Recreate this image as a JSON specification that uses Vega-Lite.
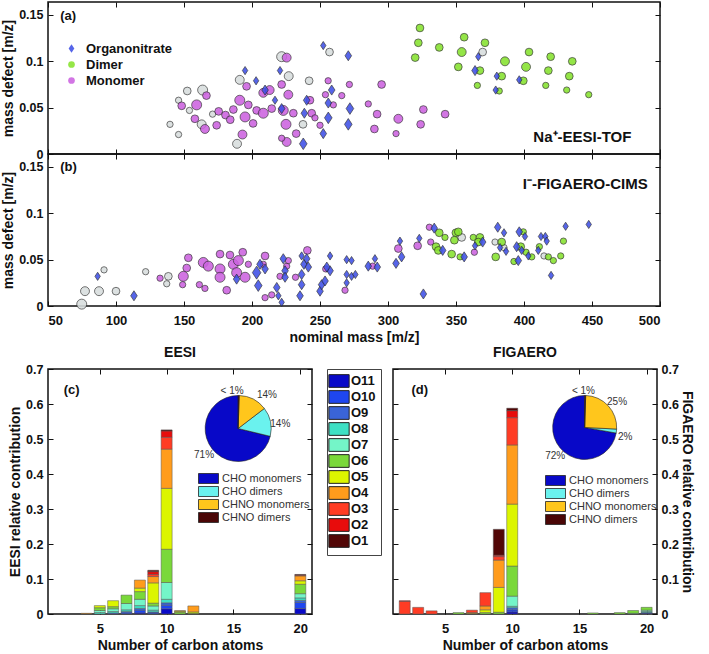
{
"$schema": "https://vega.github.io/schema/vega-lite/v6.json",
"padding": {"left": 0, "top": 0, "right": 0, "bottom": 0},
"config": {
  "font": "Liberation Sans",
  "view": {"stroke": "#111", "strokeWidth": 1.5},
  "axis": {"labelFont": "Liberation Sans", "labelFontSize": 13, "labelFontWeight": "bold", "labelColor": "#111", "titleFont": "Liberation Sans", "titleFontSize": 14, "titleFontWeight": "bold", "titleColor": "#111", "tickColor": "#111", "tickWidth": 1, "grid": false, "domain": false, "tickSize": -5, "titlePadding": 3},
  "axisX": {"labelPadding": 13},
  "axisY": {"labelPadding": 10, "labelFontSize": 12.5},
  "legend": {"labelFont": "Liberation Sans"},
  "title": {"font": "Liberation Sans", "fontSize": 14, "fontWeight": "bold", "color": "#111"}
},
"datasets": {
  "eesi": [
    {"mass":139.7,"defect":0.032,"type":"Other","intensity":1},{"mass":146,"defect":0.021,"type":"Other","intensity":1},{"mass":146,"defect":0.058,"type":"Other","intensity":1},{"mass":152.4,"defect":0.068,"type":"Other","intensity":2},{"mass":163.7,"defect":0.069,"type":"Other","intensity":4},{"mass":154,"defect":0.047,"type":"Other","intensity":1},{"mass":163,"defect":0.032,"type":"Other","intensity":3},{"mass":171,"defect":0.043,"type":"Other","intensity":1},{"mass":189,"defect":0.011,"type":"Other","intensity":3},{"mass":191,"defect":0.080,"type":"Other","intensity":3},{"mass":221.8,"defect":0.105,"type":"Other","intensity":4},{"mass":227,"defect":0.084,"type":"Other","intensity":3},{"mass":242,"defect":0.079,"type":"Other","intensity":2},{"mass":237.5,"defect":0.032,"type":"Other","intensity":2},{"mass":257,"defect":0.110,"type":"Other","intensity":2},{"mass":369.6,"defect":0.110,"type":"Other","intensity":2},
    {"mass":148.3,"defect":0.052,"type":"Monomer","intensity":2},{"mass":159.3,"defect":0.053,"type":"Monomer","intensity":4},{"mass":166.5,"defect":0.063,"type":"Monomer","intensity":2},{"mass":158,"defect":0.038,"type":"Monomer","intensity":2},{"mass":165.4,"defect":0.027,"type":"Monomer","intensity":3},{"mass":174,"defect":0.031,"type":"Monomer","intensity":2},{"mass":175.5,"defect":0.046,"type":"Monomer","intensity":2},{"mass":180.5,"defect":0.042,"type":"Monomer","intensity":2},{"mass":184,"defect":0.037,"type":"Monomer","intensity":2},{"mass":186.3,"defect":0.048,"type":"Monomer","intensity":2},{"mass":196,"defect":0.073,"type":"Monomer","intensity":2},{"mass":191,"defect":0.058,"type":"Monomer","intensity":4},{"mass":194.9,"defect":0.040,"type":"Monomer","intensity":4},{"mass":193,"defect":0.021,"type":"Monomer","intensity":3},{"mass":197.3,"defect":0.053,"type":"Monomer","intensity":2},{"mass":203.4,"defect":0.047,"type":"Monomer","intensity":2},{"mass":208.3,"defect":0.044,"type":"Monomer","intensity":4},{"mass":208.3,"defect":0.066,"type":"Monomer","intensity":3},{"mass":200.8,"defect":0.033,"type":"Monomer","intensity":2},{"mass":213,"defect":0.069,"type":"Monomer","intensity":3},{"mass":214.5,"defect":0.049,"type":"Monomer","intensity":2},{"mass":221.8,"defect":0.075,"type":"Monomer","intensity":2},{"mass":225.5,"defect":0.104,"type":"Monomer","intensity":3},{"mass":226.7,"defect":0.064,"type":"Monomer","intensity":3},{"mass":223,"defect":0.047,"type":"Monomer","intensity":4},{"mass":225,"defect":0.032,"type":"Monomer","intensity":4},{"mass":225.5,"defect":0.013,"type":"Monomer","intensity":3},{"mass":221.8,"defect":0.017,"type":"Monomer","intensity":1},{"mass":230.4,"defect":0.044,"type":"Monomer","intensity":2},{"mass":232.5,"defect":0.022,"type":"Monomer","intensity":2},{"mass":242.6,"defect":0.058,"type":"Monomer","intensity":2},{"mass":243.9,"defect":0.044,"type":"Monomer","intensity":2},{"mass":246.3,"defect":0.039,"type":"Monomer","intensity":1},{"mass":250,"defect":0.031,"type":"Monomer","intensity":1},{"mass":256,"defect":0.079,"type":"Monomer","intensity":1},{"mass":254,"defect":0.064,"type":"Monomer","intensity":1},{"mass":259.8,"defect":0.053,"type":"Monomer","intensity":1},{"mass":266,"defect":0.063,"type":"Monomer","intensity":1},{"mass":271.6,"defect":0.075,"type":"Monomer","intensity":1},{"mass":285.5,"defect":0.054,"type":"Monomer","intensity":1},{"mass":295.3,"defect":0.075,"type":"Monomer","intensity":2},{"mass":292,"defect":0.043,"type":"Monomer","intensity":2},{"mass":290,"defect":0.027,"type":"Monomer","intensity":2},{"mass":307.6,"defect":0.038,"type":"Monomer","intensity":3},{"mass":305.9,"defect":0.022,"type":"Monomer","intensity":1},{"mass":326,"defect":0.048,"type":"Monomer","intensity":2},{"mass":324,"defect":0.032,"type":"Monomer","intensity":2},{"mass":342,"defect":0.043,"type":"Monomer","intensity":2},
    {"mass":323.5,"defect":0.136,"type":"Dimer","intensity":2},{"mass":322.3,"defect":0.120,"type":"Dimer","intensity":2},{"mass":320,"defect":0.104,"type":"Dimer","intensity":2},{"mass":337.7,"defect":0.115,"type":"Dimer","intensity":2},{"mass":356,"defect":0.126,"type":"Dimer","intensity":2},{"mass":354.2,"defect":0.110,"type":"Dimer","intensity":3},{"mass":351.7,"defect":0.094,"type":"Dimer","intensity":2},{"mass":371.3,"defect":0.120,"type":"Dimer","intensity":2},{"mass":367.6,"defect":0.090,"type":"Dimer","intensity":2},{"mass":365.7,"defect":0.074,"type":"Dimer","intensity":1},{"mass":386,"defect":0.100,"type":"Dimer","intensity":3},{"mass":383.6,"defect":0.084,"type":"Dimer","intensity":2},{"mass":381.8,"defect":0.068,"type":"Dimer","intensity":1},{"mass":403.7,"defect":0.110,"type":"Dimer","intensity":2},{"mass":401.5,"defect":0.094,"type":"Dimer","intensity":3},{"mass":399.5,"defect":0.079,"type":"Dimer","intensity":2},{"mass":419.6,"defect":0.105,"type":"Dimer","intensity":2},{"mass":417.9,"defect":0.090,"type":"Dimer","intensity":2},{"mass":416,"defect":0.074,"type":"Dimer","intensity":1},{"mass":435.5,"defect":0.100,"type":"Dimer","intensity":2},{"mass":433.3,"defect":0.084,"type":"Dimer","intensity":2},{"mass":431.4,"defect":0.069,"type":"Dimer","intensity":1},{"mass":447.6,"defect":0.064,"type":"Dimer","intensity":1},
    {"mass":194.9,"defect":0.090,"type":"Organonitrate","intensity":1},{"mass":203,"defect":0.079,"type":"Organonitrate","intensity":1},{"mass":209.6,"defect":0.069,"type":"Organonitrate","intensity":2},{"mass":216.9,"defect":0.058,"type":"Organonitrate","intensity":1},{"mass":220.6,"defect":0.090,"type":"Organonitrate","intensity":1},{"mass":221.8,"defect":0.049,"type":"Organonitrate","intensity":2},{"mass":240.2,"defect":0.058,"type":"Organonitrate","intensity":2},{"mass":238.5,"defect":0.044,"type":"Organonitrate","intensity":2},{"mass":237.7,"defect":0.011,"type":"Organonitrate","intensity":3},{"mass":252.4,"defect":0.117,"type":"Organonitrate","intensity":1},{"mass":258.6,"defect":0.069,"type":"Organonitrate","intensity":2},{"mass":256.1,"defect":0.055,"type":"Organonitrate","intensity":2},{"mass":256.1,"defect":0.039,"type":"Organonitrate","intensity":3},{"mass":252.4,"defect":0.022,"type":"Organonitrate","intensity":2},{"mass":270.8,"defect":0.106,"type":"Organonitrate","intensity":2},{"mass":272,"defect":0.049,"type":"Organonitrate","intensity":3},{"mass":270.8,"defect":0.032,"type":"Organonitrate","intensity":3},{"mass":364,"defect":0.090,"type":"Organonitrate","intensity":2},{"mass":366.4,"defect":0.105,"type":"Organonitrate","intensity":1},{"mass":380,"defect":0.084,"type":"Organonitrate","intensity":1},{"mass":396.5,"defect":0.080,"type":"Organonitrate","intensity":1},{"mass":379.2,"defect":0.069,"type":"Organonitrate","intensity":1}
  ],
  "figaero": [
    {"mass":74.8,"defect":0.002,"type":"Other","intensity":4},{"mass":77.2,"defect":0.016,"type":"Other","intensity":3},{"mass":87.5,"defect":0.016,"type":"Other","intensity":3},{"mass":91.2,"defect":0.039,"type":"Other","intensity":1},{"mass":100,"defect":0.016,"type":"Other","intensity":2},{"mass":121.8,"defect":0.037,"type":"Other","intensity":1},{"mass":138.5,"defect":0.032,"type":"Other","intensity":2},{"mass":137.3,"defect":0.024,"type":"Other","intensity":1},{"mass":354.2,"defect":0.074,"type":"Other","intensity":2},{"mass":378.7,"defect":0.069,"type":"Other","intensity":1},{"mass":385.3,"defect":0.063,"type":"Other","intensity":1},{"mass":414.7,"defect":0.054,"type":"Other","intensity":1},
    {"mass":132.4,"defect":0.030,"type":"Monomer","intensity":1},{"mass":149.5,"defect":0.032,"type":"Monomer","intensity":4},{"mass":152,"defect":0.041,"type":"Monomer","intensity":2},{"mass":149,"defect":0.023,"type":"Monomer","intensity":1},{"mass":153.2,"defect":0.052,"type":"Monomer","intensity":2},{"mass":164.2,"defect":0.047,"type":"Monomer","intensity":4},{"mass":167.9,"defect":0.043,"type":"Monomer","intensity":4},{"mass":161.3,"defect":0.023,"type":"Monomer","intensity":1},{"mass":165.4,"defect":0.019,"type":"Monomer","intensity":1},{"mass":176.5,"defect":0.056,"type":"Monomer","intensity":2},{"mass":176.5,"defect":0.040,"type":"Monomer","intensity":4},{"mass":176.5,"defect":0.031,"type":"Monomer","intensity":4},{"mass":181.4,"defect":0.017,"type":"Monomer","intensity":2},{"mass":183.8,"defect":0.055,"type":"Monomer","intensity":2},{"mass":186.3,"defect":0.045,"type":"Monomer","intensity":4},{"mass":193.2,"defect":0.058,"type":"Monomer","intensity":2},{"mass":190,"defect":0.049,"type":"Monomer","intensity":4},{"mass":194.9,"defect":0.031,"type":"Monomer","intensity":4},{"mass":197.3,"defect":0.045,"type":"Monomer","intensity":1},{"mass":188.7,"defect":0.036,"type":"Monomer","intensity":4},{"mass":209.6,"defect":0.054,"type":"Monomer","intensity":2},{"mass":208.3,"defect":0.045,"type":"Monomer","intensity":1},{"mass":209.6,"defect":0.009,"type":"Monomer","intensity":1},{"mass":220.6,"defect":0.032,"type":"Monomer","intensity":1},{"mass":214.5,"defect":0.012,"type":"Monomer","intensity":1},{"mass":225.5,"defect":0.043,"type":"Monomer","intensity":1},{"mass":226.7,"defect":0.049,"type":"Monomer","intensity":1},{"mass":240.7,"defect":0.060,"type":"Monomer","intensity":2},{"mass":232,"defect":0.031,"type":"Monomer","intensity":1},{"mass":254.2,"defect":0.040,"type":"Monomer","intensity":1},{"mass":268.4,"defect":0.017,"type":"Monomer","intensity":1},{"mass":288.7,"defect":0.043,"type":"Monomer","intensity":1},{"mass":307.6,"defect":0.062,"type":"Monomer","intensity":2},{"mass":321.8,"defect":0.065,"type":"Monomer","intensity":2},{"mass":331.4,"defect":0.069,"type":"Monomer","intensity":1},{"mass":330.4,"defect":0.085,"type":"Monomer","intensity":1},{"mass":363.5,"defect":0.058,"type":"Monomer","intensity":1},
    {"mass":337.7,"defect":0.079,"type":"Dimer","intensity":2},{"mass":341.9,"defect":0.074,"type":"Dimer","intensity":1},{"mass":335.3,"defect":0.064,"type":"Dimer","intensity":2},{"mass":337,"defect":0.060,"type":"Dimer","intensity":2},{"mass":346.8,"defect":0.056,"type":"Dimer","intensity":2},{"mass":349.9,"defect":0.079,"type":"Dimer","intensity":2},{"mass":351.7,"defect":0.080,"type":"Dimer","intensity":2},{"mass":348.8,"defect":0.071,"type":"Dimer","intensity":2},{"mass":353,"defect":0.053,"type":"Dimer","intensity":1},{"mass":362.7,"defect":0.074,"type":"Dimer","intensity":1},{"mass":367.6,"defect":0.074,"type":"Dimer","intensity":2},{"mass":366.4,"defect":0.069,"type":"Dimer","intensity":2},{"mass":383.6,"defect":0.069,"type":"Dimer","intensity":2},{"mass":379.2,"defect":0.053,"type":"Dimer","intensity":2},{"mass":399.5,"defect":0.080,"type":"Dimer","intensity":1},{"mass":397.6,"defect":0.064,"type":"Dimer","intensity":2},{"mass":401.5,"defect":0.058,"type":"Dimer","intensity":1},{"mass":405.7,"defect":0.053,"type":"Dimer","intensity":1},{"mass":392.6,"defect":0.048,"type":"Dimer","intensity":1},{"mass":411.3,"defect":0.064,"type":"Dimer","intensity":1},{"mass":417.9,"defect":0.053,"type":"Dimer","intensity":1},{"mass":421.6,"defect":0.049,"type":"Dimer","intensity":1},{"mass":427,"defect":0.054,"type":"Dimer","intensity":1},{"mass":429,"defect":0.070,"type":"Dimer","intensity":1},
    {"mass":86.5,"defect":0.032,"type":"Organonitrate","intensity":1},{"mass":113.2,"defect":0.011,"type":"Organonitrate","intensity":2},{"mass":188.7,"defect":0.029,"type":"Organonitrate","intensity":2},{"mass":203.4,"defect":0.036,"type":"Organonitrate","intensity":4},{"mass":204.6,"defect":0.022,"type":"Organonitrate","intensity":3},{"mass":205.9,"defect":0.045,"type":"Organonitrate","intensity":2},{"mass":209.6,"defect":0.040,"type":"Organonitrate","intensity":2},{"mass":218.2,"defect":0.020,"type":"Organonitrate","intensity":2},{"mass":219.4,"defect":0.011,"type":"Organonitrate","intensity":1},{"mass":221.8,"defect":0.004,"type":"Organonitrate","intensity":1},{"mass":223,"defect":0.051,"type":"Organonitrate","intensity":2},{"mass":224.3,"defect":0.038,"type":"Organonitrate","intensity":2},{"mass":224.3,"defect":0.031,"type":"Organonitrate","intensity":2},{"mass":235.3,"defect":0.011,"type":"Organonitrate","intensity":2},{"mass":236.5,"defect":0.023,"type":"Organonitrate","intensity":2},{"mass":238.2,"defect":0.045,"type":"Organonitrate","intensity":2},{"mass":240.2,"defect":0.051,"type":"Organonitrate","intensity":2},{"mass":241.4,"defect":0.042,"type":"Organonitrate","intensity":2},{"mass":236.5,"defect":0.034,"type":"Organonitrate","intensity":2},{"mass":236.5,"defect":0.054,"type":"Organonitrate","intensity":1},{"mass":250,"defect":0.016,"type":"Organonitrate","intensity":2},{"mass":251.2,"defect":0.023,"type":"Organonitrate","intensity":2},{"mass":253.7,"defect":0.027,"type":"Organonitrate","intensity":2},{"mass":257.4,"defect":0.054,"type":"Organonitrate","intensity":1},{"mass":257.4,"defect":0.038,"type":"Organonitrate","intensity":2},{"mass":255,"defect":0.042,"type":"Organonitrate","intensity":2},{"mass":269.6,"defect":0.050,"type":"Organonitrate","intensity":1},{"mass":273.2,"defect":0.049,"type":"Organonitrate","intensity":1},{"mass":269.6,"defect":0.034,"type":"Organonitrate","intensity":1},{"mass":273.2,"defect":0.032,"type":"Organonitrate","intensity":1},{"mass":276,"defect":0.034,"type":"Organonitrate","intensity":1},{"mass":269.6,"defect":0.025,"type":"Organonitrate","intensity":1},{"mass":290.4,"defect":0.051,"type":"Organonitrate","intensity":1},{"mass":285.5,"defect":0.043,"type":"Organonitrate","intensity":2},{"mass":292.1,"defect":0.042,"type":"Organonitrate","intensity":2},{"mass":308.8,"defect":0.070,"type":"Organonitrate","intensity":1},{"mass":310,"defect":0.053,"type":"Organonitrate","intensity":2},{"mass":305.9,"defect":0.046,"type":"Organonitrate","intensity":2},{"mass":323,"defect":0.073,"type":"Organonitrate","intensity":1},{"mass":326,"defect":0.013,"type":"Organonitrate","intensity":2},{"mass":334,"defect":0.084,"type":"Organonitrate","intensity":2},{"mass":340.2,"defect":0.060,"type":"Organonitrate","intensity":2},{"mass":356,"defect":0.053,"type":"Organonitrate","intensity":2},{"mass":364,"defect":0.065,"type":"Organonitrate","intensity":1},{"mass":369.6,"defect":0.069,"type":"Organonitrate","intensity":2},{"mass":380.7,"defect":0.085,"type":"Organonitrate","intensity":2},{"mass":382.4,"defect":0.063,"type":"Organonitrate","intensity":1},{"mass":385.3,"defect":0.079,"type":"Organonitrate","intensity":1},{"mass":386.8,"defect":0.059,"type":"Organonitrate","intensity":1},{"mass":396.5,"defect":0.080,"type":"Organonitrate","intensity":2},{"mass":400.7,"defect":0.075,"type":"Organonitrate","intensity":1},{"mass":394.6,"defect":0.064,"type":"Organonitrate","intensity":2},{"mass":398.3,"defect":0.060,"type":"Organonitrate","intensity":1},{"mass":403.2,"defect":0.054,"type":"Organonitrate","intensity":1},{"mass":395.8,"defect":0.049,"type":"Organonitrate","intensity":2},{"mass":412.5,"defect":0.075,"type":"Organonitrate","intensity":1},{"mass":415.7,"defect":0.075,"type":"Organonitrate","intensity":1},{"mass":416.7,"defect":0.070,"type":"Organonitrate","intensity":1},{"mass":410.5,"defect":0.060,"type":"Organonitrate","intensity":1},{"mass":419.9,"defect":0.033,"type":"Organonitrate","intensity":1},{"mass":430.6,"defect":0.086,"type":"Organonitrate","intensity":1},{"mass":447.6,"defect":0.088,"type":"Organonitrate","intensity":1}
  ],
  "bars_eesi": [
    {"carbon":4,"oxygen":"O4","n":4,"value":0.002},
    {"carbon":5,"oxygen":"O8","n":8,"value":0.004},{"carbon":5,"oxygen":"O7","n":7,"value":0.006},{"carbon":5,"oxygen":"O6","n":6,"value":0.008},{"carbon":5,"oxygen":"O5","n":5,"value":0.006},
    {"carbon":6,"oxygen":"O9","n":9,"value":0.003},{"carbon":6,"oxygen":"O8","n":8,"value":0.004},{"carbon":6,"oxygen":"O7","n":7,"value":0.008},{"carbon":6,"oxygen":"O6","n":6,"value":0.006},{"carbon":6,"oxygen":"O5","n":5,"value":0.017},
    {"carbon":7,"oxygen":"O10","n":10,"value":0.003},{"carbon":7,"oxygen":"O9","n":9,"value":0.004},{"carbon":7,"oxygen":"O8","n":8,"value":0.005},{"carbon":7,"oxygen":"O7","n":7,"value":0.018},{"carbon":7,"oxygen":"O6","n":6,"value":0.024},
    {"carbon":8,"oxygen":"O11","n":11,"value":0.003},{"carbon":8,"oxygen":"O10","n":10,"value":0.008},{"carbon":8,"oxygen":"O9","n":9,"value":0.005},{"carbon":8,"oxygen":"O8","n":8,"value":0.008},{"carbon":8,"oxygen":"O7","n":7,"value":0.018},{"carbon":8,"oxygen":"O6","n":6,"value":0.022},{"carbon":8,"oxygen":"O5","n":5,"value":0.010},{"carbon":8,"oxygen":"O4","n":4,"value":0.023},
    {"carbon":9,"oxygen":"O10","n":10,"value":0.003},{"carbon":9,"oxygen":"O9","n":9,"value":0.003},{"carbon":9,"oxygen":"O8","n":8,"value":0.005},{"carbon":9,"oxygen":"O7","n":7,"value":0.012},{"carbon":9,"oxygen":"O6","n":6,"value":0.008},{"carbon":9,"oxygen":"O5","n":5,"value":0.058},{"carbon":9,"oxygen":"O4","n":4,"value":0.018},{"carbon":9,"oxygen":"O3","n":3,"value":0.006},{"carbon":9,"oxygen":"O2","n":2,"value":0.008},{"carbon":9,"oxygen":"O1","n":1,"value":0.004},
    {"carbon":10,"oxygen":"O11","n":11,"value":0.015},{"carbon":10,"oxygen":"O10","n":10,"value":0.010},{"carbon":10,"oxygen":"O9","n":9,"value":0.007},{"carbon":10,"oxygen":"O8","n":8,"value":0.010},{"carbon":10,"oxygen":"O7","n":7,"value":0.048},{"carbon":10,"oxygen":"O6","n":6,"value":0.095},{"carbon":10,"oxygen":"O5","n":5,"value":0.174},{"carbon":10,"oxygen":"O4","n":4,"value":0.112},{"carbon":10,"oxygen":"O3","n":3,"value":0.034},{"carbon":10,"oxygen":"O2","n":2,"value":0.018},{"carbon":10,"oxygen":"O1","n":1,"value":0.003},
    {"carbon":11,"oxygen":"O6","n":6,"value":0.005},{"carbon":11,"oxygen":"O5","n":5,"value":0.003},{"carbon":11,"oxygen":"O4","n":4,"value":0.0015},
    {"carbon":12,"oxygen":"O6","n":6,"value":0.002},{"carbon":12,"oxygen":"O5","n":5,"value":0.004},{"carbon":12,"oxygen":"O4","n":4,"value":0.017},
    {"carbon":20,"oxygen":"O11","n":11,"value":0.016},{"carbon":20,"oxygen":"O10","n":10,"value":0.017},{"carbon":20,"oxygen":"O9","n":9,"value":0.006},{"carbon":20,"oxygen":"O8","n":8,"value":0.007},{"carbon":20,"oxygen":"O7","n":7,"value":0.012},{"carbon":20,"oxygen":"O6","n":6,"value":0.027},{"carbon":20,"oxygen":"O5","n":5,"value":0.010},{"carbon":20,"oxygen":"O4","n":4,"value":0.014},{"carbon":20,"oxygen":"O3","n":3,"value":0.002},{"carbon":20,"oxygen":"O1","n":1,"value":0.002}
  ],
  "bars_figaero": [
    {"carbon":2,"oxygen":"O3","n":3,"value":0.036},{"carbon":2,"oxygen":"O2","n":2,"value":0.002},
    {"carbon":3,"oxygen":"O3","n":3,"value":0.019},
    {"carbon":4,"oxygen":"O3","n":3,"value":0.009},
    {"carbon":6,"oxygen":"O6","n":6,"value":0.004},
    {"carbon":7,"oxygen":"O5","n":5,"value":0.002},{"carbon":7,"oxygen":"O4","n":4,"value":0.002},{"carbon":7,"oxygen":"O3","n":3,"value":0.007},
    {"carbon":8,"oxygen":"O6","n":6,"value":0.004},{"carbon":8,"oxygen":"O5","n":5,"value":0.008},{"carbon":8,"oxygen":"O4","n":4,"value":0.011},{"carbon":8,"oxygen":"O3","n":3,"value":0.038},
    {"carbon":9,"oxygen":"O6","n":6,"value":0.005},{"carbon":9,"oxygen":"O5","n":5,"value":0.071},{"carbon":9,"oxygen":"O4","n":4,"value":0.078},{"carbon":9,"oxygen":"O3","n":3,"value":0.010},{"carbon":9,"oxygen":"O2","n":2,"value":0.004},{"carbon":9,"oxygen":"O1","n":1,"value":0.074},
    {"carbon":10,"oxygen":"O11","n":11,"value":0.006},{"carbon":10,"oxygen":"O10","n":10,"value":0.006},{"carbon":10,"oxygen":"O9","n":9,"value":0.006},{"carbon":10,"oxygen":"O8","n":8,"value":0.004},{"carbon":10,"oxygen":"O7","n":7,"value":0.029},{"carbon":10,"oxygen":"O6","n":6,"value":0.086},{"carbon":10,"oxygen":"O5","n":5,"value":0.177},{"carbon":10,"oxygen":"O4","n":4,"value":0.169},{"carbon":10,"oxygen":"O3","n":3,"value":0.078},{"carbon":10,"oxygen":"O2","n":2,"value":0.020},{"carbon":10,"oxygen":"O1","n":1,"value":0.007},
    {"carbon":16,"oxygen":"O6","n":6,"value":0.003},
    {"carbon":18,"oxygen":"O6","n":6,"value":0.004},
    {"carbon":19,"oxygen":"O7","n":7,"value":0.002},{"carbon":19,"oxygen":"O6","n":6,"value":0.008},
    {"carbon":20,"oxygen":"O11","n":11,"value":0.002},{"carbon":20,"oxygen":"O10","n":10,"value":0.002},{"carbon":20,"oxygen":"O8","n":8,"value":0.003},{"carbon":20,"oxygen":"O7","n":7,"value":0.004},{"carbon":20,"oxygen":"O6","n":6,"value":0.008}
  ],
  "pie_eesi": [
    {"group":"CHO monomers","share":71.2},{"group":"CHO dimers","share":14.2},{"group":"CHNO monomers","share":14.1},{"group":"CHNO dimers","share":0.5}
  ],
  "pie_figaero": [
    {"group":"CHO monomers","share":72.2},{"group":"CHO dimers","share":2.0},{"group":"CHNO monomers","share":25.3},{"group":"CHNO dimers","share":0.5}
  ]
},
"spacing": 0,
"resolve": {"scale": {"color": "independent", "shape": "independent", "size": "independent"}, "legend": {"color": "independent", "shape": "independent", "size": "independent"}},
"vconcat": [
  {
    "spacing": 0,
    "bounds": "flush",
    "resolve": {"scale": {"color": "independent", "shape": "independent", "size": "independent"}, "legend": {"color": "independent", "shape": "independent", "size": "independent"}},
    "vconcat": [
      {
        "width": 612, "height": 152,
        "layer": [
          {
            "data": {"name": "eesi"},
            "mark": {"type": "point", "filled": true, "stroke": "#222", "strokeWidth": 0.7, "opacity": 0.88},
            "encoding": {
              "x": {"field": "mass", "type": "quantitative", "scale": {"domain": [50, 500], "nice": false, "zero": false}, "axis": {"orient": "bottom", "values": [50,100,150,200,250,300,350,400,450,500], "labels": false, "title": null, "minExtent": 0, "maxExtent": 0}},
              "y": {"field": "defect", "type": "quantitative", "scale": {"domain": [0, 0.164], "nice": false, "zero": false}, "axis": {"orient": "left", "values": [0, 0.05, 0.1, 0.15], "format": "~g", "title": "mass defect [m/z]"}},
              "color": {"field": "type", "type": "nominal", "scale": {"domain": ["Organonitrate", "Dimer", "Monomer", "Other"], "range": ["#3f50e6", "#86e22e", "#cc62e0", "#d8dddd"]}, "legend": {"title": null, "orient": "none", "legendX": 17, "legendY": 40, "values": ["Organonitrate", "Dimer", "Monomer"], "symbolSize": 45, "symbolStrokeWidth": 0, "labelFontSize": 13, "labelFontWeight": "bold", "labelColor": "#111", "rowPadding": 2, "labelOffset": 8}},
              "shape": {"field": "type", "type": "nominal", "scale": {"domain": ["Organonitrate", "Dimer", "Monomer", "Other"], "range": ["M0,-1.3L0.85,0L0,1.3L-0.85,0Z", "circle", "circle", "circle"]}, "legend": {"title": null, "orient": "none", "legendX": 17, "legendY": 40, "values": ["Organonitrate", "Dimer", "Monomer"], "symbolSize": 45, "symbolStrokeWidth": 0, "labelFontSize": 13, "labelFontWeight": "bold", "labelColor": "#111", "rowPadding": 2, "labelOffset": 8}},
              "size": {"field": "intensity", "type": "ordinal", "scale": {"domain": [1, 2, 3, 4], "range": [40, 100, 160, 230]}, "legend": null}
            }
          },
          {
            "data": {"values": [{}]},
            "mark": {"type": "point", "opacity": 0},
            "encoding": {
              "x": {"datum": 100, "type": "quantitative", "axis": {"orient": "top", "values": [50,100,150,200,250,300,350,400,450,500], "labels": false, "title": null, "minExtent": 0, "maxExtent": 0}},
              "y": {"datum": 0.05, "type": "quantitative", "axis": {"orient": "right", "values": [0, 0.05, 0.1, 0.15], "labels": false, "title": null, "minExtent": 0, "maxExtent": 0}}
            }
          },
          {
            "data": {"values": [{}]},
            "mark": {"type": "text", "align": "left", "baseline": "middle", "fontSize": 13, "fontWeight": "bold", "color": "#111"},
            "encoding": {"x": {"datum": 59, "type": "quantitative", "axis": null}, "y": {"datum": 0.149, "type": "quantitative", "axis": null}, "text": {"value": "(a)"}}
          },
          {
            "data": {"values": [{}]},
            "mark": {"type": "text", "align": "right", "baseline": "middle", "fontSize": 15, "fontWeight": "bold", "color": "#111"},
            "encoding": {"x": {"datum": 479, "type": "quantitative", "axis": null}, "y": {"datum": 0.018, "type": "quantitative", "axis": null}, "text": {"value": "Na⁺-EESI-TOF"}}
          }
        ],
        "resolve": {"axis": {"x": "independent", "y": "independent"}}
      },
      {
        "width": 612, "height": 152,
        "layer": [
          {
            "data": {"name": "figaero"},
            "mark": {"type": "point", "filled": true, "stroke": "#222", "strokeWidth": 0.7, "opacity": 0.88},
            "encoding": {
              "x": {"field": "mass", "type": "quantitative", "scale": {"domain": [50, 500], "nice": false, "zero": false}, "axis": {"orient": "bottom", "values": [50,100,150,200,250,300,350,400,450,500], "title": "nominal mass [m/z]"}},
              "y": {"field": "defect", "type": "quantitative", "scale": {"domain": [0, 0.164], "nice": false, "zero": false}, "axis": {"orient": "left", "values": [0, 0.05, 0.1, 0.15], "format": "~g", "title": "mass defect [m/z]"}},
              "color": {"field": "type", "type": "nominal", "scale": {"domain": ["Organonitrate", "Dimer", "Monomer", "Other"], "range": ["#3f50e6", "#86e22e", "#cc62e0", "#d8dddd"]}, "legend": null},
              "shape": {"field": "type", "type": "nominal", "scale": {"domain": ["Organonitrate", "Dimer", "Monomer", "Other"], "range": ["M0,-1.3L0.85,0L0,1.3L-0.85,0Z", "circle", "circle", "circle"]}, "legend": null},
              "size": {"field": "intensity", "type": "ordinal", "scale": {"domain": [1, 2, 3, 4], "range": [40, 100, 160, 230]}, "legend": null}
            }
          },
          {
            "data": {"values": [{}]},
            "mark": {"type": "point", "opacity": 0},
            "encoding": {
              "x": {"datum": 100, "type": "quantitative", "axis": {"orient": "top", "values": [50,100,150,200,250,300,350,400,450,500], "labels": false, "title": null, "minExtent": 0, "maxExtent": 0}},
              "y": {"datum": 0.05, "type": "quantitative", "axis": {"orient": "right", "values": [0, 0.05, 0.1, 0.15], "labels": false, "title": null, "minExtent": 0, "maxExtent": 0}}
            }
          },
          {
            "data": {"values": [{}]},
            "mark": {"type": "text", "align": "left", "baseline": "middle", "fontSize": 13, "fontWeight": "bold", "color": "#111"},
            "encoding": {"x": {"datum": 59, "type": "quantitative", "axis": null}, "y": {"datum": 0.15, "type": "quantitative", "axis": null}, "text": {"value": "(b)"}}
          },
          {
            "data": {"values": [{}]},
            "mark": {"type": "text", "align": "right", "baseline": "middle", "fontSize": 15, "fontWeight": "bold", "color": "#111"},
            "encoding": {"x": {"datum": 491, "type": "quantitative", "axis": null}, "y": {"datum": 0.132, "type": "quantitative", "axis": null}, "text": {"value": "I⁻-FIGAERO-CIMS"}}
          }
        ],
        "resolve": {"axis": {"x": "independent", "y": "independent"}}
      }
    ]
  },
  {
    "spacing": 8,
    "resolve": {"scale": {"color": "independent"}, "legend": {"color": "independent"}},
    "hconcat": [
      {
        "width": 264, "height": 245,
        "title": {"text": "EESI", "offset": 3},
        "layer": [
          {
            "data": {"name": "bars_eesi"},
            "mark": {"type": "bar", "width": 11, "stroke": "#555", "strokeWidth": 0.5},
            "encoding": {
              "x": {"field": "carbon", "type": "quantitative", "scale": {"domain": [1.5, 20.5], "nice": false, "zero": false}, "axis": {"orient": "bottom", "values": [5, 10, 15, 20], "title": "Number of carbon atoms"}},
              "y": {"field": "value", "type": "quantitative", "stack": "zero", "scale": {"domain": [0, 0.7], "nice": false}, "axis": {"orient": "left", "values": [0, 0.1, 0.2, 0.3, 0.4, 0.5, 0.6, 0.7], "format": "~g", "title": "EESI relative contribution"}},
              "color": {"field": "oxygen", "type": "nominal", "scale": {"domain": ["O11","O10","O9","O8","O7","O6","O5","O4","O3","O2","O1"], "range": ["#0a0ac8","#1e46f0","#3a64d8","#3ee0c4","#74f5c8","#7ad83a","#dcf500","#ff9c1c","#ff3c24","#e80c0c","#520606"]}, "legend": {"title": null, "orient": "right", "offset": 14, "symbolType": "M-1.6,-1H1.6V1H-1.6Z", "symbolSize": 161, "symbolStrokeColor": "#222", "symbolStrokeWidth": 1, "labelFontSize": 13, "labelFontWeight": "bold", "labelColor": "#111", "rowPadding": -2.5, "padding": 5, "labelOffset": 5, "strokeColor": "#444"}},
              "order": {"field": "n", "type": "quantitative", "sort": "descending"}
            }
          },
          {
            "data": {"values": [{}]},
            "mark": {"type": "point", "opacity": 0},
            "encoding": {
              "x": {"datum": 10, "type": "quantitative", "axis": {"orient": "top", "values": [5, 10, 15, 20], "labels": false, "title": null, "minExtent": 0, "maxExtent": 0}},
              "y": {"datum": 0.3, "type": "quantitative", "axis": {"orient": "right", "values": [0, 0.1, 0.2, 0.3, 0.4, 0.5, 0.6, 0.7], "labels": false, "title": null, "minExtent": 0, "maxExtent": 0}}
            }
          },
          {
            "data": {"name": "pie_eesi"},
            "mark": {"type": "arc", "outerRadius": 33, "stroke": "#222", "strokeWidth": 0.6},
            "encoding": {
              "theta": {"field": "share", "type": "quantitative", "stack": true},
              "order": {"field": "group", "type": "ordinal", "sort": "ascending"},
              "color": {"field": "group", "type": "nominal", "scale": {"domain": ["CHO monomers", "CHO dimers", "CHNO monomers", "CHNO dimers"], "range": ["#0808c8", "#6af2ee", "#ffc61c", "#4a0606"]}, "legend": {"title": null, "orient": "none", "legendX": 155, "legendY": 104, "symbolType": "M-2,-1H2V1H-2Z", "symbolSize": 100, "symbolStrokeColor": "#222", "symbolStrokeWidth": 0.8, "labelFontSize": 11, "labelColor": "#333", "rowPadding": -2.3, "labelOffset": 8}},
              "x": {"datum": 15.35, "type": "quantitative", "axis": null},
              "y": {"datum": 0.53, "type": "quantitative", "axis": null}
            }
          },
          {"data": {"values": [{}]}, "mark": {"type": "text", "align": "left", "baseline": "middle", "fontSize": 13, "fontWeight": "bold", "color": "#111"}, "encoding": {"x": {"datum": 2.3, "type": "quantitative", "axis": null}, "y": {"datum": 0.64, "type": "quantitative", "axis": null}, "text": {"value": "(c)"}}},
          {"data": {"values": [{}]}, "mark": {"type": "text", "fontSize": 10, "color": "#333"}, "encoding": {"x": {"datum": 12.8, "type": "quantitative", "axis": null}, "y": {"datum": 0.454, "type": "quantitative", "axis": null}, "text": {"value": "71%"}}},
          {"data": {"values": [{}]}, "mark": {"type": "text", "fontSize": 10, "color": "#333"}, "encoding": {"x": {"datum": 17.5, "type": "quantitative", "axis": null}, "y": {"datum": 0.627, "type": "quantitative", "axis": null}, "text": {"value": "14%"}}},
          {"data": {"values": [{}]}, "mark": {"type": "text", "fontSize": 10, "color": "#333"}, "encoding": {"x": {"datum": 18.5, "type": "quantitative", "axis": null}, "y": {"datum": 0.542, "type": "quantitative", "axis": null}, "text": {"value": "14%"}}},
          {"data": {"values": [{}]}, "mark": {"type": "text", "fontSize": 10, "color": "#333"}, "encoding": {"x": {"datum": 14.9, "type": "quantitative", "axis": null}, "y": {"datum": 0.638, "type": "quantitative", "axis": null}, "text": {"value": "< 1%"}}}
        ],
        "resolve": {"scale": {"color": "independent"}, "axis": {"x": "independent", "y": "independent"}}
      },
      {
        "width": 264, "height": 245,
        "title": {"text": "FIGAERO", "offset": 3},
        "layer": [
          {
            "data": {"name": "bars_figaero"},
            "mark": {"type": "bar", "width": 11, "stroke": "#555", "strokeWidth": 0.5},
            "encoding": {
              "x": {"field": "carbon", "type": "quantitative", "scale": {"domain": [1.5, 20.4], "nice": false, "zero": false}, "axis": {"orient": "bottom", "values": [5, 10, 15, 20], "title": "Number of carbon atoms"}},
              "y": {"field": "value", "type": "quantitative", "stack": "zero", "scale": {"domain": [0, 0.7], "nice": false}, "axis": {"orient": "right", "values": [0, 0.1, 0.2, 0.3, 0.4, 0.5, 0.6, 0.7], "format": "~g", "title": "FIGAERO relative contribution", "labelPadding": 9, "titlePadding": 1}},
              "color": {"field": "oxygen", "type": "nominal", "scale": {"domain": ["O11","O10","O9","O8","O7","O6","O5","O4","O3","O2","O1"], "range": ["#0a0ac8","#1e46f0","#3a64d8","#3ee0c4","#74f5c8","#7ad83a","#dcf500","#ff9c1c","#ff3c24","#e80c0c","#520606"]}, "legend": null},
              "order": {"field": "n", "type": "quantitative", "sort": "descending"}
            }
          },
          {
            "data": {"values": [{}]},
            "mark": {"type": "point", "opacity": 0},
            "encoding": {
              "x": {"datum": 10, "type": "quantitative", "axis": {"orient": "top", "values": [5, 10, 15, 20], "labels": false, "title": null, "minExtent": 0, "maxExtent": 0}},
              "y": {"datum": 0.3, "type": "quantitative", "axis": {"orient": "left", "values": [0, 0.1, 0.2, 0.3, 0.4, 0.5, 0.6, 0.7], "labels": false, "title": null, "minExtent": 0, "maxExtent": 0}}
            }
          },
          {
            "data": {"name": "pie_figaero"},
            "mark": {"type": "arc", "outerRadius": 32, "stroke": "#222", "strokeWidth": 0.6},
            "encoding": {
              "theta": {"field": "share", "type": "quantitative", "stack": true},
              "order": {"field": "group", "type": "ordinal", "sort": "ascending"},
              "color": {"field": "group", "type": "nominal", "scale": {"domain": ["CHO monomers", "CHO dimers", "CHNO monomers", "CHNO dimers"], "range": ["#0808c8", "#6af2ee", "#ffc61c", "#4a0606"]}, "legend": {"title": null, "orient": "none", "legendX": 157, "legendY": 106, "symbolType": "M-2,-1H2V1H-2Z", "symbolSize": 100, "symbolStrokeColor": "#222", "symbolStrokeWidth": 0.8, "labelFontSize": 11, "labelColor": "#333", "rowPadding": -2.3, "labelOffset": 8}},
              "x": {"datum": 15.39, "type": "quantitative", "axis": null},
              "y": {"datum": 0.533, "type": "quantitative", "axis": null}
            }
          },
          {"data": {"values": [{}]}, "mark": {"type": "text", "align": "left", "baseline": "middle", "fontSize": 13, "fontWeight": "bold", "color": "#111"}, "encoding": {"x": {"datum": 2.5, "type": "quantitative", "axis": null}, "y": {"datum": 0.64, "type": "quantitative", "axis": null}, "text": {"value": "(d)"}}},
          {"data": {"values": [{}]}, "mark": {"type": "text", "fontSize": 10, "color": "#333"}, "encoding": {"x": {"datum": 13.2, "type": "quantitative", "axis": null}, "y": {"datum": 0.451, "type": "quantitative", "axis": null}, "text": {"value": "72%"}}},
          {"data": {"values": [{}]}, "mark": {"type": "text", "fontSize": 10, "color": "#333"}, "encoding": {"x": {"datum": 17.8, "type": "quantitative", "axis": null}, "y": {"datum": 0.605, "type": "quantitative", "axis": null}, "text": {"value": "25%"}}},
          {"data": {"values": [{}]}, "mark": {"type": "text", "fontSize": 10, "color": "#333"}, "encoding": {"x": {"datum": 18.4, "type": "quantitative", "axis": null}, "y": {"datum": 0.507, "type": "quantitative", "axis": null}, "text": {"value": "2%"}}},
          {"data": {"values": [{}]}, "mark": {"type": "text", "fontSize": 10, "color": "#333"}, "encoding": {"x": {"datum": 15.3, "type": "quantitative", "axis": null}, "y": {"datum": 0.636, "type": "quantitative", "axis": null}, "text": {"value": "< 1%"}}}
        ],
        "resolve": {"scale": {"color": "independent"}, "axis": {"x": "independent", "y": "independent"}}
      }
    ]
  }
]
}
